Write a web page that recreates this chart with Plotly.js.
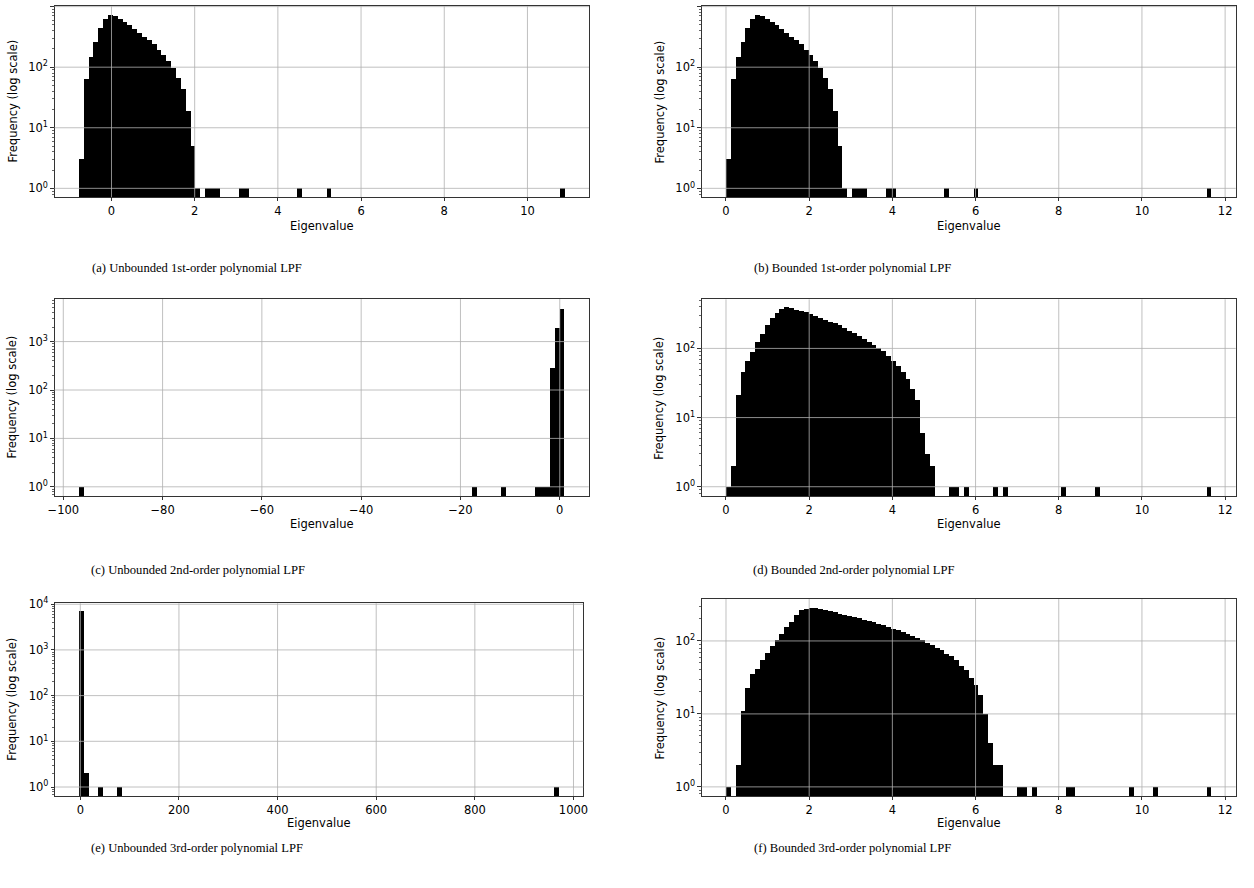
<!DOCTYPE html>
<html>
<head>
<meta charset="utf-8">
<script src="https://cdn.plot.ly/plotly-3.0.1.min.js"></script>
<style>
html,body{margin:0;padding:0;background:#fff;}
#chart{width:1254px;height:888px;}
</style>
</head>
<body>
<div id="chart"></div>
<script>
// ---------- DATA (histogram counts, 100 bins each) ----------
const captions = [
  "(a) Unbounded 1st-order polynomial LPF",
  "(b) Bounded 1st-order polynomial LPF",
  "(c) Unbounded 2nd-order polynomial LPF",
  "(d) Bounded 2nd-order polynomial LPF",
  "(e) Unbounded 3rd-order polynomial LPF",
  "(f) Bounded 3rd-order polynomial LPF"
];
const xLabel = "Eigenvalue";
const yLabel = "Frequency (log scale)";

// bin edges: first edge and bin width
const binStartA = -0.785, binWidthA = 0.1168;
const binStartB = 0,      binWidthB = 0.1167;
const binStartC = -96.88, binWidthC = 0.9782;
const binStartD = 0,      binWidthD = 0.1167;
const binStartE = -2.6,   binWidthE = 9.738;
const binStartF = 0,      binWidthF = 0.1167;

const countsA = [
  3,64,145,262,440,635,740,703,628,567,
  500,430,369,321,276,237,194,160,128,98,
  67,44,19,5,1,0,1,1,1,0,
  0,0,0,1,1,0,0,0,0,0,
  0,0,0,0,0,1,0,0,0,0,
  0,1,0,0,0,0,0,0,0,0,
  0,0,0,0,0,0,0,0,0,0,
  0,0,0,0,0,0,0,0,0,0,
  0,0,0,0,0,0,0,0,0,0,
  0,0,0,0,0,0,0,0,0,1
];
const countsB = [
  3,64,145,262,440,635,740,703,628,567,
  500,430,369,321,276,237,194,160,128,98,
  67,44,19,5,1,0,1,1,1,0,
  0,0,0,1,1,0,0,0,0,0,
  0,0,0,0,0,1,0,0,0,0,
  0,1,0,0,0,0,0,0,0,0,
  0,0,0,0,0,0,0,0,0,0,
  0,0,0,0,0,0,0,0,0,0,
  0,0,0,0,0,0,0,0,0,0,
  0,0,0,0,0,0,0,0,0,1
];
const countsC = [
  1,0,0,0,0,0,0,0,0,0,
  0,0,0,0,0,0,0,0,0,0,
  0,0,0,0,0,0,0,0,0,0,
  0,0,0,0,0,0,0,0,0,0,
  0,0,0,0,0,0,0,0,0,0,
  0,0,0,0,0,0,0,0,0,0,
  0,0,0,0,0,0,0,0,0,0,
  0,0,0,0,0,0,0,0,0,0,
  0,1,0,0,0,0,0,1,0,0,
  0,0,0,0,1,1,1,290,1950,4750
];
const countsD = [
  1,2,21,45,66,90,122,163,220,275,
  328,370,396,387,358,347,331,313,293,277,
  257,240,230,215,197,180,165,152,138,125,
  112,103,91,77,66,56,45,36,26,18,
  6,3,2,0,0,0,1,1,0,1,
  0,0,0,0,0,1,0,1,0,0,
  0,0,0,0,0,0,0,0,0,1,
  0,0,0,0,0,0,1,0,0,0,
  0,0,0,0,0,0,0,0,0,0,
  0,0,0,0,0,0,0,0,0,1
];
const countsE = [
  7000,2,0,0,1,0,0,0,1,0,
  0,0,0,0,0,0,0,0,0,0,
  0,0,0,0,0,0,0,0,0,0,
  0,0,0,0,0,0,0,0,0,0,
  0,0,0,0,0,0,0,0,0,0,
  0,0,0,0,0,0,0,0,0,0,
  0,0,0,0,0,0,0,0,0,0,
  0,0,0,0,0,0,0,0,0,0,
  0,0,0,0,0,0,0,0,0,0,
  0,0,0,0,0,0,0,0,0,1
];
const countsF = [
  1,0,2,11,23,35,41,54,68,84,
  102,125,156,184,225,263,272,280,286,277,
  266,255,247,237,229,220,213,205,196,190,
  182,173,166,156,148,140,133,125,118,111,
  104,95,88,80,74,67,62,54,46,40,
  31,25,18,10,4,2,2,0,0,0,
  1,1,0,1,0,0,0,0,0,0,
  1,1,0,0,0,0,0,0,0,0,
  0,0,0,1,0,0,0,0,1,0,
  0,0,0,0,0,0,0,0,0,1
];

const xTicksSmall = [0,2,4,6,8,10];
const xTicksBounded = [0,2,4,6,8,10,12];
const xTicksC = [-100,-80,-60,-40,-20,0];
const xTicksE = [0,200,400,600,800,1000];
const yTicks3 = [1,10,100,1000];
const yTicks2 = [1,10,100];
const yTicks4 = [1,10,100,1000,10000];

// ---------- LAYOUT ----------
const W = 1254, H = 888;
const fx = v => v / W;
const fy = v => 1 - v / H;

const panels = [
  {counts:countsA, x0:binStartA, dx:binWidthA, box:[54.5,589,6,197],   xr:[-1.37,11.48],   yr:[-0.143,3.01], xt:xTicksSmall,   yt:yTicks3, cx:197, cy:268, ly:226, yx:12},
  {counts:countsB, x0:binStartB, dx:binWidthB, box:[701.7,1235.7,6,197], xr:[-0.584,12.254], yr:[-0.143,3.01], xt:xTicksBounded, yt:yTicks3, cx:852, cy:268, ly:226, yx:659},
  {counts:countsC, x0:binStartC, dx:binWidthC, box:[54.5,588.7,299,496], xr:[-101.77,5.83], yr:[-0.19,3.88],  xt:xTicksC,       yt:yTicks3, cx:198, cy:570, ly:524, yx:12},
  {counts:countsD, x0:binStartD, dx:binWidthD, box:[701.7,1235.7,299.3,496], xr:[-0.584,12.254], yr:[-0.134,2.71], xt:xTicksBounded, yt:yTicks2, cx:853, cy:570, ly:524, yx:659},
  {counts:countsE, x0:binStartE, dx:binWidthE, box:[55,583.3,603.3,796], xr:[-51.3,1019.9], yr:[-0.197,4.02], xt:xTicksE,       yt:yTicks4, cx:197, cy:848, ly:823, yx:12},
  {counts:countsF, x0:binStartF, dx:binWidthF, box:[701.7,1235.7,599,796], xr:[-0.584,12.254], yr:[-0.125,2.575], xt:xTicksBounded, yt:yTicks2, cx:852, cy:848, ly:823, yx:659}
];

const minorVals = [];
for (let d = -1; d <= 4; d++) for (let m = 2; m <= 9; m++) minorVals.push(m * Math.pow(10, d));

const tickFont = {family:'DejaVu Sans, sans-serif', size:11.5, color:'#000'};
const traces = [];
const layout = {
  width: W, height: H,
  margin: {l:0, r:0, t:0, b:0},
  paper_bgcolor: '#fff', plot_bgcolor: '#fff',
  showlegend: false,
  bargap: 0,
  shapes: [], annotations: []
};
const gridLine = {color:'#b0b0b0', width:0.8};

panels.forEach((p, i) => {
  const s = i === 0 ? '' : String(i + 1);
  traces.push({
    type:'bar',
    x0: p.x0 + p.dx / 2, dx: p.dx,
    y: p.counts.map(c => c > 0 ? c : null),
    width: p.dx,
    marker:{color:'#000', line:{width:0}},
    xaxis:'x' + s, yaxis:'y' + s,
    hoverinfo:'skip'
  });
  layout['xaxis' + s] = {
    domain:[fx(p.box[0]), fx(p.box[1])], anchor:'y' + s,
    range:p.xr, tickmode:'array', tickvals:p.xt,
    showgrid:false, zeroline:false,
    showline:true, mirror:true, linecolor:'#000', linewidth:0.8,
    ticks:'outside', ticklen:3.5, tickwidth:0.8, tickcolor:'#000',
    tickfont:tickFont
  };
  layout['yaxis' + s] = {
    domain:[fy(p.box[3]), fy(p.box[2])], anchor:'x' + s,
    type:'log', range:p.yr, tickmode:'array', tickvals:p.yt,
    ticktext:p.yt.map(v => '10<sup>' + Math.round(Math.log10(v)) + '</sup>'),
    minor:{tickmode:'array', tickvals:minorVals, ticks:'outside', ticklen:2, tickwidth:0.6, tickcolor:'#000', showgrid:false},
    showgrid:false, zeroline:false,
    showline:true, mirror:true, linecolor:'#000', linewidth:0.8,
    ticks:'outside', ticklen:3.5, tickwidth:0.8, tickcolor:'#000',
    tickfont:tickFont
  };
  p.xt.forEach(v => layout.shapes.push({type:'line', layer:'above', xref:'x' + s, yref:'y' + s + ' domain', x0:v, x1:v, y0:0, y1:1, line:gridLine}));
  p.yt.forEach(v => layout.shapes.push({type:'line', layer:'above', xref:'x' + s + ' domain', yref:'y' + s, x0:0, x1:1, y0:v, y1:v, line:gridLine}));

  layout.annotations.push({text:captions[i], xref:'paper', yref:'paper', x:fx(p.cx), y:fy(p.cy), xanchor:'center', yanchor:'middle', showarrow:false, font:{family:'Liberation Serif, Times New Roman, serif', size:12.6, color:'#000'}});
  layout.annotations.push({text:xLabel, xref:'paper', yref:'paper', x:fx((p.box[0] + p.box[1]) / 2), y:fy(p.ly), xanchor:'center', yanchor:'middle', showarrow:false, font:tickFont});
  layout.annotations.push({text:yLabel, xref:'paper', yref:'paper', x:fx(p.yx), y:fy((p.box[2] + p.box[3]) / 2), xanchor:'center', yanchor:'middle', textangle:-90, showarrow:false, font:tickFont});
});

Plotly.newPlot('chart', traces, layout, {staticPlot:true, displayModeBar:false});
</script>
</body>
</html>
